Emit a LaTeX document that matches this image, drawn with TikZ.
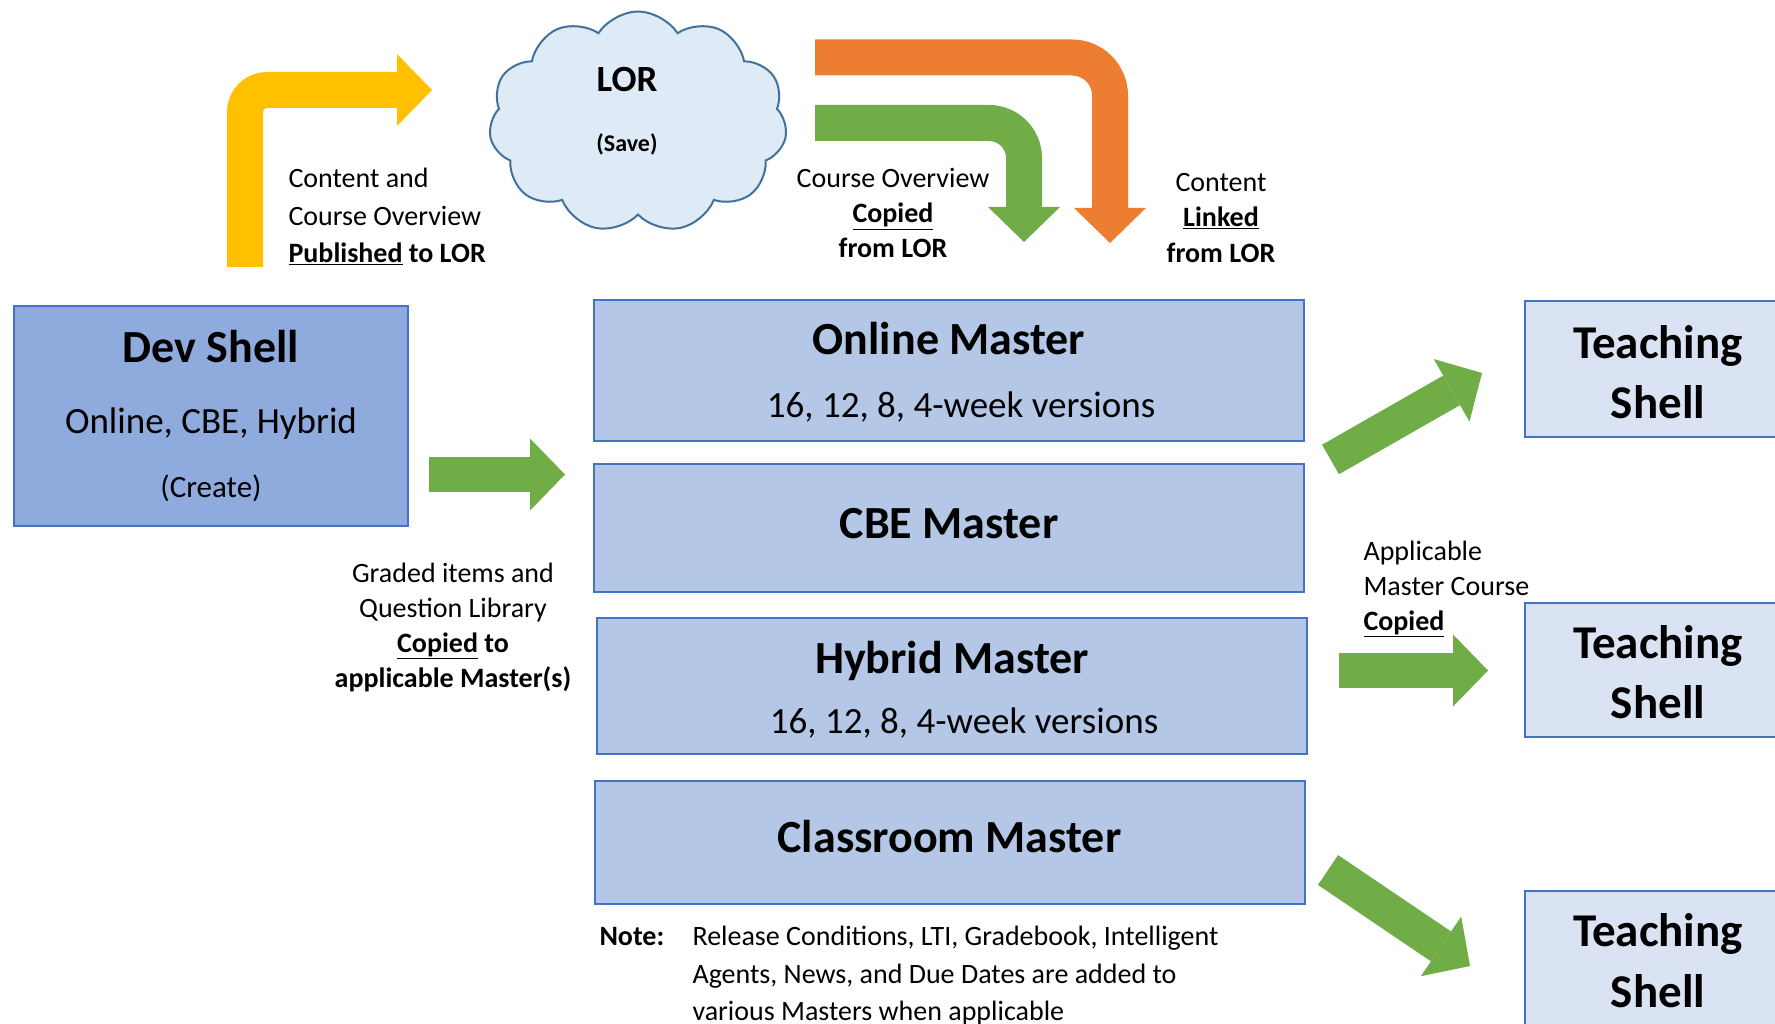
\documentclass[tikz,border=0pt]{standalone}
\usepackage{fontspec}
\setmainfont{Carlito}
\usetikzlibrary{arrows.meta, shapes.symbols}

\definecolor{devfill}{HTML}{8FAADC}
\definecolor{masterfill}{HTML}{B4C7E7}
\definecolor{shellfill}{HTML}{DAE3F3}
\definecolor{boxline}{HTML}{4472C4}
\definecolor{cloudfill}{HTML}{DEEBF7}
\definecolor{cloudline}{HTML}{41719C}
\definecolor{arrowgreen}{HTML}{70AD47}
\definecolor{arroworange}{HTML}{ED7D31}
\definecolor{arrowyellow}{HTML}{FFC000}

\newcommand{\fsz}[1]{\fontsize{#1}{#1}\selectfont}

\begin{document}
\begin{tikzpicture}[
          x=1pt, y=-1pt,
          devbox/.style={draw=boxline, line width=2pt, fill=devfill, minimum width=394pt, minimum height=220pt, inner sep=0pt},
          masterbox/.style={draw=boxline, line width=2pt, fill=masterfill, minimum width=710pt, inner sep=0pt},
          shellbox/.style={draw=boxline, line width=2pt, fill=shellfill, minimum width=266pt, minimum height=135pt, inner sep=0pt},
          titletext/.style={anchor=base, font=\bfseries\fsz{46}},
          subtext/.style={anchor=base, font=\fsz{37}},
          lbl/.style={anchor=base, font=\fsz{28}},
          lblleft/.style={anchor=base west, font=\fsz{28}},
          shelltext/.style={anchor=base, font=\bfseries\fsz{47}},
          blockarrow/.style={line width=36pt, -{Triangle[length=35pt,width=72pt,line width=0pt]}}
        ]
        \useasboundingbox (0,0) rectangle (1775,1024);
        \fill[white] (0,0) rectangle (1775,1024);

        % cloud
        \node [cloud, cloud puffs=11, cloud puff arc=115, aspect=1.35, draw=cloudline, line width=2pt,
               fill=cloudfill, minimum width=298pt, minimum height=221pt, inner sep=0pt] (lor) at (638,122) {};
        \node [anchor=base, font=\bfseries\fsz{37}] (lortitle) at (627,92) {LOR};
        \node [anchor=base, font=\bfseries\fsz{24}] (lorsave) at (627,152) {(Save)};

        % dev shell
        \node [devbox] (dev) at (211,416) {};
        \node [titletext] (devtitle) at (211,362) {Dev Shell};
        \node [subtext] (devsub) at (211,433) {Online, CBE, Hybrid};
        \node [anchor=base, font=\fsz{31}] (devcreate) at (211,497) {(Create)};

        % masters
        \node [masterbox, minimum height=141pt] (online) at (949,370.5) {};
        \node [titletext] (onlinetitle) at (949,355) {Online Master};
        \node [subtext] (onlinesub) at (961,417) {16, 12, 8, 4-week versions};
        \node [masterbox, minimum height=128pt] (cbe) at (949,528) {};
        \node [titletext] (cbetitle) at (949,538) {CBE Master};
        \node [masterbox, minimum height=136pt] (hybrid) at (952,686) {};
        \node [titletext] (hybridtitle) at (952,673) {Hybrid Master};
        \node [subtext] (hybridsub) at (964,733) {16, 12, 8, 4-week versions};
        \node [masterbox, minimum height=123pt] (classroom) at (949.5,842.5) {};
        \node [titletext] (classroomtitle) at (949.5,852) {Classroom Master};

        % teaching shells
        \node [shellbox, minimum height=136pt] (shella) at (1658,369) {};
        \node [shelltext] (shellaa) at (1658,358) {Teaching};
        \node [shelltext] (shellab) at (1658,418) {Shell};
        \node [shellbox, minimum height=134pt] (shellb) at (1658,670) {};
        \node [shelltext] (shellba) at (1658,658) {Teaching};
        \node [shelltext] (shellbb) at (1658,718) {Shell};
        \node [shellbox] (shellc) at (1658,958.5) {};
        \node [shelltext] (shellca) at (1658,946) {Teaching};
        \node [shelltext] (shellcb) at (1658,1007) {Shell};

        % labels
        \node [lblleft] (puba) at (285,188) {Content and};
        \node [lblleft] (pubb) at (285,226) {Course Overview};
        \node [lblleft] (pubc) at (285,263) {\textbf{\underline{Published} to LOR}};
        \node [lbl] (copya) at (893,188) {Course Overview};
        \node [lbl] (copyb) at (893,223) {\textbf{\underline{Copied}}};
        \node [lbl] (copyc) at (893,258) {\textbf{from LOR}};
        \node [lbl] (linka) at (1221,192) {Content};
        \node [lbl] (linkb) at (1221,227) {\textbf{\underline{Linked}}};
        \node [lbl] (linkc) at (1221,263) {\textbf{from LOR}};
        \node [lbl] (gradeda) at (453,582) {Graded items and};
        \node [lbl] (gradedb) at (453,617) {Question Library};
        \node [lbl] (gradedc) at (453,652) {\textbf{\underline{Copied} to}};
        \node [lbl] (gradedd) at (453,687) {\textbf{applicable Master(s)}};
        \node [lblleft] (appla) at (1360,560) {Applicable};
        \node [lblleft] (applb) at (1360,595) {Master Course};
        \node [lblleft] (applc) at (1360,630) {\textbf{\underline{Copied}}};
        \node [lblleft] (notehead) at (596,945) {\textbf{Note:}};
        \node [lblleft] (notea) at (689,945) {Release Conditions, LTI, Gradebook, Intelligent};
        \node [lblleft] (noteb) at (689,983) {Agents, News, and Due Dates are added to};
        \node [lblleft] (notec) at (689,1020) {various Masters when applicable};

        % arrow ends
        \coordinate (pubstart) at (245,267);
        \coordinate (pubend) at (432,90);
        \coordinate (linkstart) at (815,57.5);
        \coordinate (linkend) at (1110,243);
        \coordinate (copystart) at (815,123);
        \coordinate (copyend) at (1024,242);
        \coordinate (devstart) at (429,474.5);
        \coordinate (devend) at (565,474.5);
        \coordinate (upstart) at (1330.5,459.5);
        \coordinate (upend) at (1482,373);
        \coordinate (midstart) at (1339,670.5);
        \coordinate (midend) at (1488,670.5);
        \coordinate (downstart) at (1328,870);
        \coordinate (downend) at (1470,966);

        \draw [blockarrow, arrowyellow, rounded corners=22pt] (pubstart) |- (pubend);
        \draw [blockarrow, arroworange, rounded corners=38pt] (linkstart) -| (linkend);
        \draw [blockarrow, arrowgreen, rounded corners=35pt] (copystart) -| (copyend);
        \draw [blockarrow, arrowgreen, line width=35pt] (devstart) -- (devend);
        \draw [blockarrow, arrowgreen, line width=34pt] (upstart) -- (upend);
        \draw [blockarrow, arrowgreen, line width=35pt] (midstart) -- (midend);
        \draw [blockarrow, arrowgreen, line width=36pt] (downstart) -- (downend);
        \end{tikzpicture}
\end{document}
